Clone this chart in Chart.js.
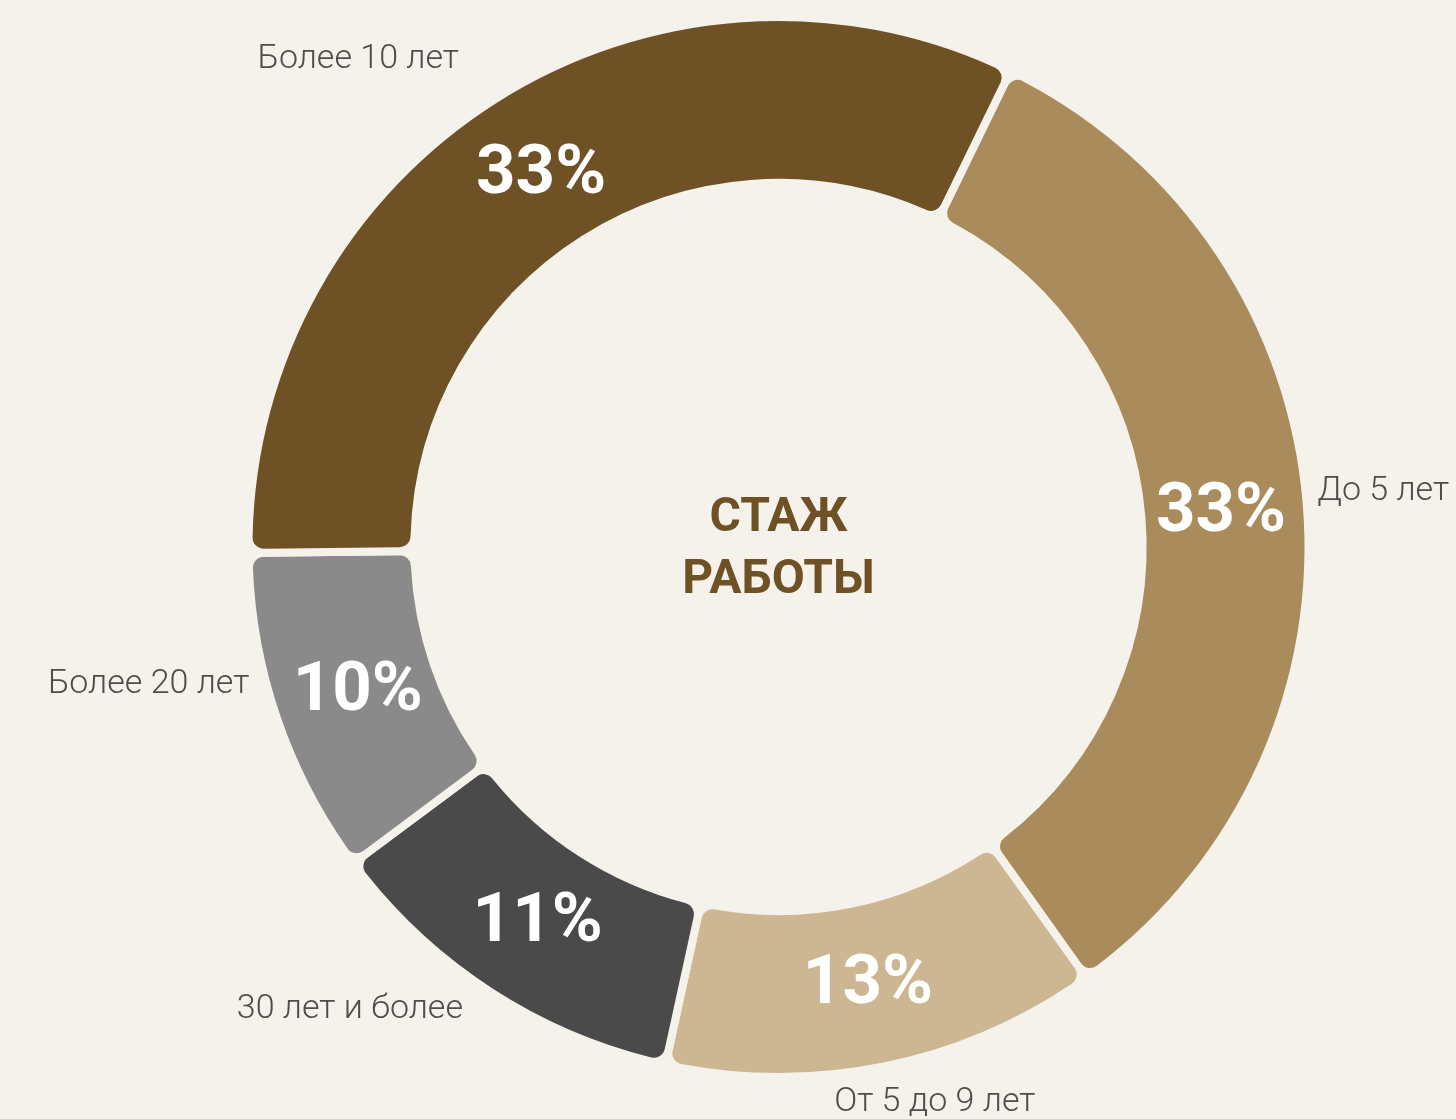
<!DOCTYPE html>
<html lang="ru">
<head>
<meta charset="utf-8">
<script src="https://cdn.jsdelivr.net/npm/chart.js@4.4.1/dist/chart.umd.min.js"></script>
<style>
  html,body{margin:0;padding:0;background:#f5f2eb;}
  #wrap{width:1456px;height:1119px;position:relative;}
</style>
</head>
<body>
<div id="wrap"><canvas id="c"></canvas></div>
<script>
// ── данные ──────────────────────────────────────────
const categories=['До 5 лет','От 5 до 9 лет','30 лет и более','Более 20 лет','Более 10 лет'];
const shares=[32.9,13.3,11.4,10.0,32.4];          // доля круга
const pctLabels=['33%','13%','11%','10%','33%'];
const colors=['#aa8b5b','#cdb793','#4a4a4a','#8a8a8a','#6e5226'];
const centerLines=['СТАЖ','РАБОТЫ'];

const BG='#f5f2eb', GAP=8;

// подписи снаружи: угол от верха (по часовой), отступ от внешнего края, выравнивание
const outerPlace=[
  {a:83.8,d:16,align:'left'},
  {a:164.2,d:48,align:'center'},
  {a:214.5,d:31,align:'right'},
  {a:255.7,d:20,align:'right'},
  {a:326.9,d:59,align:'right'}
];

const labelsPlugin={
  id:'ringLabels',
  afterDatasetsDraw(chart){
    const ctx=chart.ctx, meta=chart.getDatasetMeta(0);
    const a0=meta.data[0], cx=a0.x, cy=a0.y;
    const R=a0.outerRadius-GAP/2, r=a0.innerRadius+GAP/2;
    ctx.save();
    // проценты внутри кольца
    ctx.fillStyle='#ffffff';ctx.font='bold 69px Roboto';
    ctx.textAlign='center';ctx.textBaseline='middle';
    meta.data.forEach((arc,i)=>{
      const m=(arc.startAngle+arc.endAngle)/2, rr=(R+r)/2-3;
      ctx.fillText(pctLabels[i],cx+Math.cos(m)*rr,cy+Math.sin(m)*rr+4);
    });
    // подписи категорий
    ctx.fillStyle='#4d4d4d';ctx.font='300 34px Roboto';
    outerPlace.forEach((p,i)=>{
      const t=(p.a-90)*Math.PI/180, rr=R+p.d;
      ctx.textAlign=p.align;
      ctx.fillText(categories[i],cx+Math.cos(t)*rr,cy+Math.sin(t)*rr+3);
    });
    // заголовок в центре
    ctx.fillStyle='#6e5226';ctx.font='bold 48px Roboto';ctx.textAlign='center';
    ctx.fillText(centerLines[0],cx,cy-28);
    ctx.fillText(centerLines[1],cx,cy+34);
    ctx.restore();
  }
};

new Chart(document.getElementById('c'),{
  type:'doughnut',
  data:{labels:categories,datasets:[{
    data:shares,backgroundColor:colors,
    borderColor:BG,borderWidth:GAP,borderRadius:15,hoverOffset:0
  }]},
  options:{
    responsive:true,maintainAspectRatio:false,animation:false,
    rotation:26,cutout:'68.7%',
    layout:{padding:{left:101,right:0,top:13,bottom:38}},
    plugins:{legend:{display:false},tooltip:{enabled:false}}
  },
  plugins:[labelsPlugin]
});
</script>
</body>
</html>
